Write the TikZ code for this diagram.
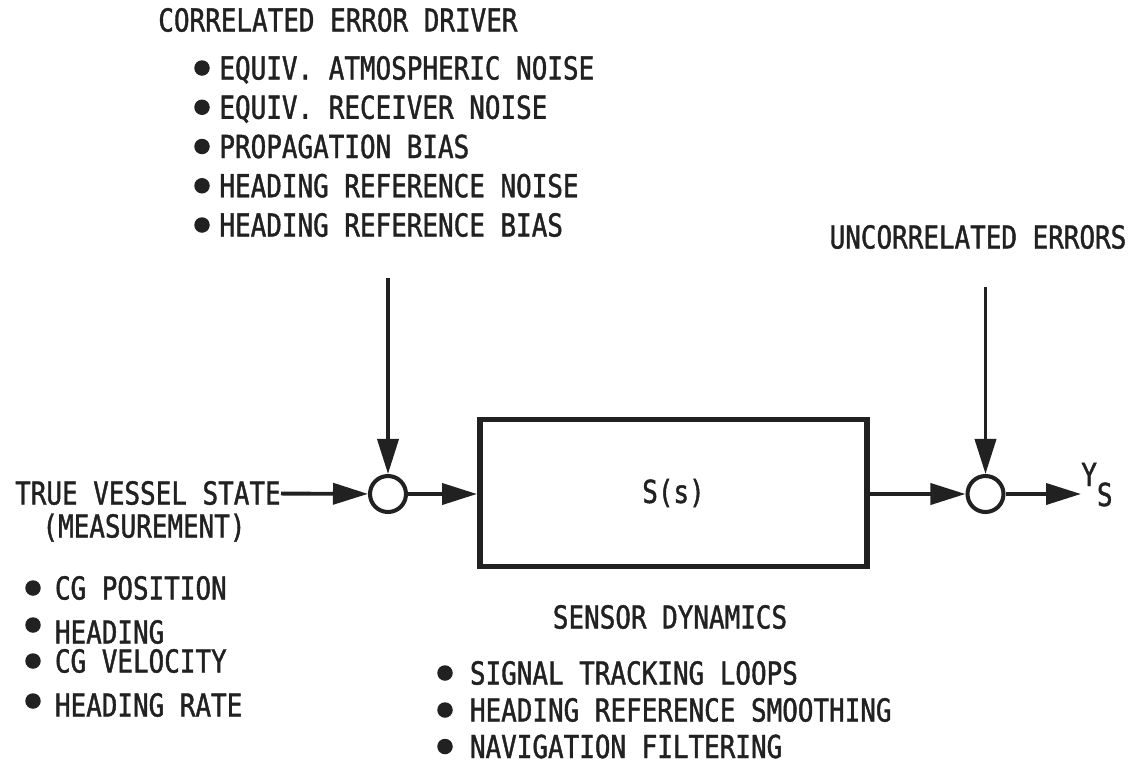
\documentclass[tikz,border=0pt]{standalone}
\usepackage{fontspec}
\usepackage{tikz}
\usetikzlibrary{arrows.meta, positioning}
\newfontfamily\letterfont[FakeStretch=0.82, FakeBold=1.3]{DejaVu Sans Mono}
\definecolor{ink}{gray}{0.13}

\begin{document}
\begin{tikzpicture}[
    lbl/.style   ={font=\letterfont\fontsize{18pt}{21pt}\selectfont, text=ink,
                   inner sep=0pt, text height=13.1pt, text depth=0pt},
    dot/.style   ={circle, fill=ink, inner sep=0pt, minimum size=0.31cm},
    sumpt/.style ={draw=ink, circle, line width=2.3pt, minimum size=0.72cm, inner sep=0pt},
    block/.style ={draw=ink, line width=3.4pt, minimum width=7.74cm, minimum height=2.94cm,
                   inner sep=0pt, font=\letterfont\fontsize{18pt}{21pt}\selectfont, text=ink},
    arrow/.style ={-{Triangle[length=0.7cm, width=0.42cm]}, draw=ink, line width=2.2pt},
]
\useasboundingbox (0,0) rectangle (22.68,-15.32);

% ── Correlated error driver ─────────────────────────────────────────────
\node[lbl, anchor=west] (driver) at (3.16,-0.40) {CORRELATED ERROR DRIVER};
\node[dot] (d1) at (4.04,-1.36)  {};
\node[dot] (d2) at (4.04,-2.145) {};
\node[dot] (d3) at (4.04,-2.93)  {};
\node[dot] (d4) at (4.04,-3.715) {};
\node[dot] (d5) at (4.04,-4.50)  {};
\node[lbl, right=0.18cm of d1] (atmos)  {EQUIV. ATMOSPHERIC NOISE};
\node[lbl, right=0.18cm of d2] (rcvr)   {EQUIV. RECEIVER NOISE};
\node[lbl, right=0.18cm of d3] (prop)   {PROPAGATION BIAS};
\node[lbl, right=0.18cm of d4] (hdgns)  {HEADING REFERENCE NOISE};
\node[lbl, right=0.18cm of d5] (hdgbs)  {HEADING REFERENCE BIAS};
\coordinate (drvin) at (7.76,-5.56);

% ── Uncorrelated errors ─────────────────────────────────────────────────
\node[lbl] (uncorr) at (19.56,-4.74) {UNCORRELATED ERRORS};
\coordinate (uncin) at (19.71,-5.74);

% ── Main path ───────────────────────────────────────────────────────────
\node[lbl, anchor=east] (truest) at (5.62,-9.86) {TRUE VESSEL STATE};
\node[lbl] (meas) at (2.88,-10.52) {(MEASUREMENT)};
\node[sumpt] (sum1) at (7.76,-9.88) {};
\node[block] (sensor) at (13.47,-9.86) {S(s)};
\node[sumpt] (sum2) at (19.71,-9.88) {};
\node[lbl, anchor=base west] (ys) at (21.62,-9.72) {Y\raisebox{-0.40cm}{S}};

% ── Vessel state items ──────────────────────────────────────────────────
\node[dot] (v1) at (0.66,-11.76) {};
\node[dot] (v2) at (0.66,-12.50) {};
\node[dot] (v3) at (0.66,-13.22) {};
\node[dot] (v4) at (0.66,-14.02) {};
\node[lbl, right=0.27cm of v1] (cgpos) {CG POSITION};
\node[lbl, right=0.27cm of v2, yshift=-0.14cm] (hdg) {HEADING};
\node[lbl, right=0.27cm of v3] (cgvel) {CG VELOCITY};
\node[lbl, right=0.27cm of v4, yshift=-0.08cm] (hdgrt) {HEADING RATE};

% ── Sensor dynamics ─────────────────────────────────────────────────────
\node[lbl] (sdyn) at (13.40,-12.34) {SENSOR DYNAMICS};
\node[dot] (s1) at (8.90,-13.46) {};
\node[dot] (s2) at (8.90,-14.20) {};
\node[dot] (s3) at (8.90,-14.93) {};
\node[lbl, right=0.33cm of s1] (track)  {SIGNAL TRACKING LOOPS};
\node[lbl, right=0.33cm of s2] (smooth) {HEADING REFERENCE SMOOTHING};
\node[lbl, right=0.33cm of s3] (navf)   {NAVIGATION FILTERING};

% ── Arrows ──────────────────────────────────────────────────────────────
\draw[arrow] (truest) -- (sum1);
\draw[arrow] (drvin)  -- (sum1);
\draw[arrow] (sum1)   -- (sum1 -| sensor.west);
\draw[arrow] (sum2 -| sensor.east) -- (sum2);
\draw[arrow] (uncin)  -- (sum2);
\draw[arrow] (sum2)   -- (sum2 -| ys.west);

\end{tikzpicture}
\end{document}
